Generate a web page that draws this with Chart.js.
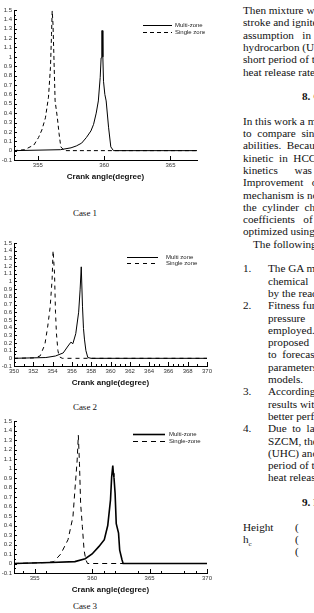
<!DOCTYPE html>
<html>
<head>
<meta charset="utf-8">
<script src="https://cdn.jsdelivr.net/npm/chart.js@4/dist/chart.umd.min.js"></script>
<style>
body { margin:0; width:314px; height:613px; overflow:hidden; background:#fff; position:relative; font-family:"Liberation Serif", serif; color:#111; }
canvas { position:absolute; left:0; }
.case { position:absolute; left:0; width:170px; text-align:center; font-size:9px; }
.t { position:absolute; font-size:11.2px; line-height:12px; white-space:pre; }
.b { font-weight:bold; }
</style>
</head>
<body>
<canvas id="c1" width="205" height="182" style="top:0px"></canvas>
<div class="case" style="top:208px">Case 1</div>
<canvas id="c2" width="215" height="155" style="top:233px"></canvas>
<div class="case" style="top:402px">Case 2</div>
<canvas id="c3" width="215" height="184" style="top:411px"></canvas>
<div class="case" style="top:601px">Case 3</div>
<div id="page"></div>
<script>
// y axis (same on all three cases)
const yTicks = [-0.1, 0, 0.1, 0.2, 0.3, 0.4, 0.5, 0.6, 0.7, 0.8, 0.9, 1, 1.1, 1.2, 1.3, 1.4, 1.5];

// case 1
const c1Ticks = [355, 360, 365];
const c1MultiX = [353.2, 356.7, 357.5, 357.9, 358.3, 358.66, 359.0, 359.2, 359.4, 359.56, 359.7, 359.77, 359.82, 359.87, 359.9, 359.95, 360.05, 360.15, 360.33, 360.5, 360.7, 367];
const c1MultiY = [0, 0.01, 0.03, 0.05, 0.08, 0.14, 0.21, 0.28, 0.4, 0.53, 0.78, 0.99, 1.28, 1.28, 1.0, 0.74, 0.6, 0.53, 0.25, 0.04, 0, 0];
const c1SingleX = [353.2, 354.0, 354.7, 355.05, 355.3, 355.57, 355.8, 355.95, 356.03, 356.08, 356.14, 356.2, 356.3, 356.47, 356.6, 356.73, 357.0, 367];
const c1SingleY = [0, 0.01, 0.06, 0.14, 0.22, 0.35, 0.57, 0.89, 1.24, 1.49, 1.35, 1.05, 0.53, 0.35, 0.18, 0.04, 0, 0];

// case 2
const c2Ticks = [350, 352, 354, 356, 358, 360, 362, 364, 366, 368, 370];
const c2MultiX = [350, 353.3, 354.3, 355.1, 355.6, 355.9, 356.1, 356.4, 356.7, 356.85, 356.97, 357.03, 357.1, 357.2, 357.3, 357.45, 357.65, 358, 370];
const c2MultiY = [0, 0.01, 0.03, 0.07, 0.16, 0.21, 0.19, 0.32, 0.6, 0.89, 1.19, 1.19, 0.67, 0.39, 0.25, 0.1, 0.01, 0, 0];
const c2SingleX = [350, 352.0, 352.7, 353.2, 353.5, 353.75, 353.95, 354.05, 354.2, 354.3, 354.4, 354.55, 354.7, 355.0, 370];
const c2SingleY = [0, 0.005, 0.03, 0.18, 0.42, 0.67, 1.03, 1.40, 1.1, 0.6, 0.32, 0.1, 0.02, 0, 0];

// case 3
const c3Ticks = [355, 360, 365, 370];
const c3MultiX = [353.2, 356.4, 358.5, 359.4, 360.0, 360.6, 361.06, 361.36, 361.6, 361.7, 361.8, 361.85, 361.9, 362.0, 362.1, 362.3, 362.4, 362.6, 362.7, 370];
const c3MultiY = [0, 0.01, 0.02, 0.05, 0.1, 0.18, 0.25, 0.4, 0.67, 0.91, 1.03, 0.95, 0.91, 0.74, 0.42, 0.32, 0.14, 0.04, 0, 0];
const c3SingleX = [353.2, 356.06, 356.67, 357.27, 357.9, 358.33, 358.5, 358.7, 358.8, 358.9, 359.0, 359.15, 359.3, 359.45, 359.6, 370];
const c3SingleY = [0, 0.01, 0.02, 0.1, 0.25, 0.49, 0.77, 1.09, 1.35, 1.05, 0.63, 0.39, 0.14, 0.04, 0, 0];

const pairs = (xs, ys) => xs.map((x, i) => ({x: x, y: ys[i]}));
const sans = 'Liberation Sans';

// small ticks pointing into the plot, like the original
const innerTicks = {
  id: 'innerTicks',
  afterDraw(chart, args, opts) {
    const {ctx, chartArea: a, scales: {x, y}} = chart;
    ctx.save();
    ctx.strokeStyle = '#000';
    ctx.lineWidth = 1;
    ctx.beginPath();
    opts.xMajor.forEach(v => {
      const px = Math.round(x.getPixelForValue(v)) + 0.5;
      ctx.moveTo(px, a.bottom); ctx.lineTo(px, a.bottom - 4);
    });
    opts.xMinor.forEach(v => {
      const px = Math.round(x.getPixelForValue(v)) + 0.5;
      ctx.moveTo(px, a.bottom); ctx.lineTo(px, a.bottom - 2);
    });
    yTicks.forEach((v, i) => {
      let py = Math.round(y.getPixelForValue(v)) + 0.5;
      ctx.moveTo(a.left, py); ctx.lineTo(a.left + 3, py);
      if (i > 0) {
        py = Math.round(y.getPixelForValue((v + yTicks[i - 1]) / 2)) + 0.5;
        ctx.moveTo(a.left, py); ctx.lineTo(a.left + 2, py);
      }
    });
    ctx.stroke();
    ctx.restore();
  }
};

// legend drawn inside the plot, top right
const caseKey = {
  id: 'caseKey',
  afterDraw(chart, args, opts) {
    const ctx = chart.ctx;
    ctx.save();
    ctx.font = '6px ' + sans;
    ctx.fillStyle = '#222';
    ctx.textBaseline = 'middle';
    chart.data.datasets.forEach((ds, i) => {
      const yy = opts.y + i * opts.gap + 0.5;
      ctx.strokeStyle = '#000';
      ctx.lineWidth = ds.borderWidth;
      ctx.setLineDash(ds.borderDash || []);
      ctx.beginPath();
      ctx.moveTo(opts.x0, yy); ctx.lineTo(opts.x1, yy);
      ctx.stroke();
      ctx.fillText(ds.label, opts.tx, yy);
    });
    ctx.restore();
  }
};

function caseChart(id, o) {
  return new Chart(document.getElementById(id), {
    type: 'line',
    data: {
      datasets: [
        {label: o.names[0], data: pairs(o.multiX, o.multiY), borderColor: '#000', borderWidth: o.solidW, pointRadius: 0},
        {label: o.names[1], data: pairs(o.singleX, o.singleY), borderColor: '#000', borderWidth: 1, borderDash: o.dash, pointRadius: 0}
      ]
    },
    options: {
      responsive: false,
      animation: false,
      devicePixelRatio: 1,
      layout: {padding: {top: 10, right: 8, left: 0, bottom: 0}},
      plugins: {
        legend: {display: false},
        tooltip: {enabled: false},
        innerTicks: {xMajor: o.xTicks, xMinor: o.xMinor},
        caseKey: o.key
      },
      scales: {
        x: {
          type: 'linear', min: o.xMin, max: o.xMax,
          grid: {display: false, drawTicks: false},
          border: {color: '#000'},
          afterBuildTicks: s => { s.ticks = o.xTicks.map(v => ({value: v})); },
          afterFit: s => { s.height = 22; },
          ticks: {font: {size: 6, family: sans}, color: '#333', padding: 2, maxRotation: 0, autoSkip: false},
          title: {display: true, text: 'Crank angle(degree)', font: {size: 8, weight: 'bold', family: sans}, color: '#111', padding: 0}
        },
        y: {
          min: -0.1, max: 1.5,
          grid: {display: false, drawTicks: false},
          border: {color: '#000'},
          afterBuildTicks: s => { s.ticks = yTicks.map(v => ({value: v})); },
          afterFit: s => { s.width = 14; },
          ticks: {font: {size: 6, family: sans}, color: '#333', padding: 2, autoSkip: false,
                  callback: v => String(Math.round(v * 10) / 10)}
        }
      }
    },
    plugins: [innerTicks, caseKey]
  });
}

caseChart('c1', {
  names: ['Multi-zone', 'Single zone'], multiX: c1MultiX, multiY: c1MultiY, singleX: c1SingleX, singleY: c1SingleY,
  xMin: 353.2, xMax: 367, xTicks: c1Ticks, xMinor: [], solidW: 1, dash: [4, 3],
  key: {x0: 143, x1: 172, tx: 175, y: 25, gap: 7}
});
caseChart('c2', {
  names: ['Multi zone', 'Single zone'], multiX: c2MultiX, multiY: c2MultiY, singleX: c2SingleX, singleY: c2SingleY,
  xMin: 350, xMax: 370, xTicks: c2Ticks,
  xMinor: [351, 353, 355, 356.5, 357, 357.5, 358.5, 359, 359.5, 360.5, 361, 361.5, 363, 364.5, 365, 366.5, 367, 367.5, 369],
  solidW: 1, dash: [4, 4],
  key: {x0: 127, x1: 158, tx: 166, y: 24, gap: 6}
});
caseChart('c3', {
  names: ['Multi-zone', 'Single-zone'], multiX: c3MultiX, multiY: c3MultiY, singleX: c3SingleX, singleY: c3SingleY,
  xMin: 353.2, xMax: 370, xTicks: c3Ticks, xMinor: [354, 356, 361, 362, 364, 366, 368, 369],
  solidW: 1.6, dash: [5, 4],
  key: {x0: 133, x1: 165, tx: 169, y: 23, gap: 7}
});

// the page text to the right of the figures (cut by the page edge)
const pageRows = [
  [0, 243, 'Then mixture was'], [1, 243, 'stroke and ignited'], [2, 243, 'assumption   in   the'],
  [3, 243, 'hydrocarbon (UHC)'], [4, 243, 'short period of time'], [5, 243, 'heat release rate'],
  [7, 302, '8. Conclusion', 1],
  [9, 243, 'In this work a model'], [10, 243, 'to  compare  single'], [11, 243, 'abilities.  Because'],
  [12, 243, 'kinetic  in  HCCI'], [13, 243, 'kinetics      was'], [14, 243, 'Improvement   of'],
  [15, 243, 'mechanism is not'], [16, 243, 'the  cylinder  charge'], [17, 243, 'coefficients   of'],
  [18, 243, 'optimized using'], [19, 253, 'The following'],
  [21, 243, '1.'], [21, 268, 'The GA method'], [22, 268, 'chemical'], [23, 268, 'by the reaction'],
  [24, 243, '2.'], [24, 268, 'Fitness function'], [25, 268, 'pressure'], [26, 268, 'employed.'],
  [27, 268, 'proposed'], [28, 268, 'to  forecast'], [29, 268, 'parameters'], [30, 268, 'models.'],
  [31, 243, '3.'], [31, 268, 'According'], [32, 268, 'results with'], [33, 268, 'better performance'],
  [34, 243, '4.'], [34, 268, 'Due  to  lack'], [35, 268, 'SZCM, the'], [36, 268, '(UHC) and'],
  [37, 268, 'period of time'], [38, 268, 'heat release'],
  [40, 302, '9. Nomenclature', 1],
  [42, 243, 'Height'], [42, 295, '('], [43, 295, '('], [44, 295, '(']
];
const page = document.getElementById('page');
pageRows.forEach(r => {
  const d = document.createElement('div');
  d.className = 't' + (r[3] ? ' b' : '');
  d.style.top = (4 + r[0] * 12.3) + 'px';
  d.style.left = r[1] + 'px';
  d.textContent = r[2];
  page.appendChild(d);
});
const hc = document.createElement('div');
hc.className = 't';
hc.style.top = (4 + 43 * 12.3) + 'px';
hc.style.left = '243px';
hc.innerHTML = 'h<sub style="font-size:7px">c</sub>';
page.appendChild(hc);
</script>
</body>
</html>
